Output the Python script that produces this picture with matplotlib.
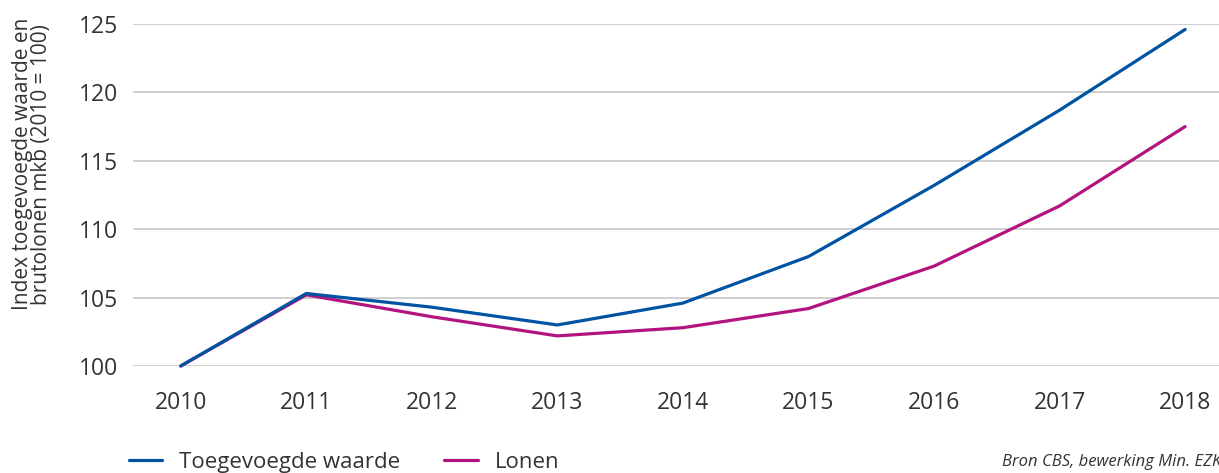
import matplotlib.pyplot as plt

# -----------------------------------
# DATA
# -----------------------------------
years = [2010, 2011, 2012, 2013, 2014, 2015, 2016, 2017, 2018]
toegevoegde_waarde = [100.0, 105.3, 104.3, 103.0, 104.6, 108.0, 113.2, 118.7, 124.6]
lonen = [100.0, 105.2, 103.6, 102.2, 102.8, 104.2, 107.3, 111.7, 117.5]
y_ticks = [100, 105, 110, 115, 120, 125]

BLUE = "#0052a3"
PINK = "#b3137f"
TEXT = "#333333"

plt.rcParams["font.family"] = ["Open Sans", "DejaVu Sans"]

fig = plt.figure(figsize=(12.19, 4.73), dpi=100)
ax = fig.add_axes([133 / 1219, (473 - 366) / 473, 1 - 133 / 1219, (366 - 24) / 473])

ax.plot(years, toegevoegde_waarde, color=BLUE, lw=2.3, label="Toegevoegde waarde",
        solid_joinstyle="round", solid_capstyle="round", clip_on=False, zorder=3)
ax.plot(years, lonen, color=PINK, lw=2.3, label="Lonen",
        solid_joinstyle="round", solid_capstyle="round", clip_on=False, zorder=2)

ax.set_xlim(2009.62, 2018.27)
ax.set_ylim(100, 125)
ax.set_xticks(years)
ax.set_yticks(y_ticks)

for s in ax.spines.values():
    s.set_visible(False)

ax.grid(axis="y", color="#cccccc", lw=1.3)
ax.set_axisbelow(True)
ax.tick_params(axis="both", length=0, labelsize=16.5, labelcolor=TEXT)
ax.tick_params(axis="x", pad=18)
ax.tick_params(axis="y", pad=11)

ax.set_ylabel("Index toegevoegde waarde en\nbrutolonen mkb (2010 = 100)",
              fontsize=15, color=TEXT, linespacing=0.85)
ax.yaxis.set_label_coords(-0.075, 0.59)

fig.legend(loc="center left", bbox_to_anchor=(120 / 1219, 1 - 462 / 473), ncol=2,
           frameon=False, fontsize=16, handlelength=1.5, handletextpad=0.75,
           columnspacing=2.0, labelcolor=TEXT, borderaxespad=0)

fig.text(1.002, 1 - 462 / 473, "Bron CBS, bewerking Min. EZK", ha="right", va="center",
         fontsize=12, style="italic", color=TEXT)

plt.savefig("out.png", dpi=100)
plt.close()
